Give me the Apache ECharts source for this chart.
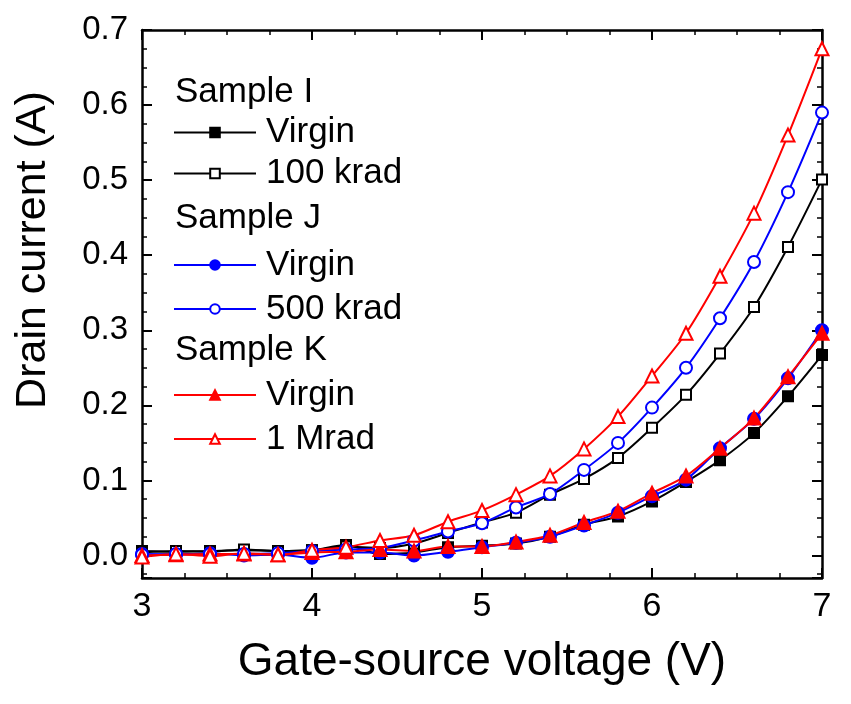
<!DOCTYPE html>
<html>
<head>
<meta charset="utf-8">
<script src="https://cdn.jsdelivr.net/npm/echarts@6/dist/echarts.min.js"></script>
<style>html,body{margin:0;padding:0;background:#fff}#c{width:851px;height:704px}</style>
</head>
<body>
<div id="c"></div>
<script>
const voltage = [3.0,3.2,3.4,3.6,3.8,4.0,4.2,4.4,4.6,4.8,5.0,5.2,5.4,5.6,5.8,6.0,6.2,6.4,6.6,6.8,7.0];
const sampleI_virgin = [0.006,0.005,0.006,0.007,0.006,0.007,0.014,0.002,0.004,0.011,0.013,0.016,0.025,0.041,0.052,0.072,0.098,0.127,0.163,0.212,0.267];
const sampleI_100krad = [0.004,0.006,0.005,0.008,0.006,0.007,0.012,0.010,0.016,0.030,0.044,0.057,0.081,0.102,0.130,0.170,0.214,0.269,0.331,0.411,0.501];
const sampleJ_virgin = [0.002,0.001,0.003,0.000,0.001,-0.003,0.004,0.004,0.000,0.005,0.011,0.017,0.025,0.040,0.057,0.079,0.101,0.143,0.182,0.236,0.300];
const sampleJ_500krad = [0.001,0.002,0.002,0.002,0.003,0.006,0.008,0.010,0.020,0.032,0.043,0.064,0.082,0.114,0.150,0.197,0.250,0.316,0.391,0.484,0.590];
const sampleK_virgin = [0.000,0.001,0.002,0.002,0.001,0.004,0.005,0.008,0.006,0.012,0.012,0.018,0.027,0.044,0.059,0.083,0.106,0.143,0.183,0.238,0.296];
const sampleK_1Mrad = [-0.002,0.002,-0.001,0.003,0.001,0.007,0.011,0.020,0.027,0.045,0.060,0.081,0.106,0.142,0.185,0.239,0.296,0.372,0.456,0.560,0.675];
const xTicks = [3,4,5,6,7];
const groupHeaders = ['Sample I','Sample J','Sample K'];
const xTitle = 'Gate-source voltage (V)';
const yTitle = 'Drain current (A)';

const FONT = '"Liberation Sans", Arial, sans-serif';
const pairs = arr => voltage.map((v,i)=>[v, arr[i]]);

function mk(name, data, color, symbol, filled, size){
  return {
    name: name, type: 'line', data: pairs(data),
    smooth: 0.3, symbol: symbol, symbolSize: size,
    lineStyle: {color: color, width: 2},
    itemStyle: {color: filled ? color : '#fff', borderColor: color, borderWidth: 2},
    emphasis: {disabled: true}, z: 3
  };
}

const series = [
  mk('Virgin|I', sampleI_virgin, '#000000', 'rect', true, 10),
  mk('100 krad|I', sampleI_100krad, '#000000', 'rect', false, 10),
  mk('Virgin|J', sampleJ_virgin, '#0000ff', 'circle', true, 12),
  mk('500 krad|J', sampleJ_500krad, '#0000ff', 'circle', false, 12),
  mk('Virgin|K', sampleK_virgin, '#ff0000', 'triangle', true, 13),
  mk('1 Mrad|K', sampleK_1Mrad, '#ff0000', 'triangle', false, 13)
];

function legend(names, top, lh){
  return {
    data: names, orient: 'vertical', left: 173, top: top, padding: 0,
    itemWidth: 82, itemHeight: 12, itemGap: 0, selectedMode: false,
    formatter: n => n.split('|')[0],
    textStyle: {fontFamily: FONT, fontSize: 35, color: '#000', lineHeight: lh, padding: [0,0,0,5]}
  };
}

const axisCommon = {
  axisLine: {show: true, onZero: false, lineStyle: {color: '#000', width: 2.5}},
  axisTick: {show: true, inside: true, length: 10, lineStyle: {color: '#000', width: 2}},
  minorTick: {show: true, splitNumber: 4, length: 5, lineStyle: {color: '#000', width: 1.5}},
  splitLine: {show: false}
};

const option = {
  animation: false,
  backgroundColor: '#fff',
  grid: {left: 142, right: 29, top: 30, bottom: 126, containLabel: false},
  xAxis: [
    Object.assign({type: 'value', min: 3, max: 7, interval: 1, position: 'bottom',
      name: xTitle, nameLocation: 'middle', nameGap: 61,
      nameTextStyle: {fontFamily: FONT, fontSize: 46, color: '#000'},
      axisLabel: {fontFamily: FONT, fontSize: 34, color: '#000', margin: 12,
        formatter: v => xTicks.includes(Math.round(v*1000)/1000) ? String(v) : ''}}, axisCommon),
    Object.assign({type: 'value', min: 3, max: 7, interval: 1, position: 'top',
      axisLabel: {show: false}}, axisCommon)
  ],
  yAxis: [
    Object.assign({type: 'value', min: -0.03, max: 0.7, splitNumber: 7, position: 'left',
      axisLabel: {fontFamily: FONT, fontSize: 33, color: '#000', margin: 14, showMinLabel: false,
        formatter: v => (Math.abs(v*10 - Math.round(v*10)) < 1e-6) ? v.toFixed(1) : ''}}, axisCommon),
    Object.assign({type: 'value', min: -0.03, max: 0.7, splitNumber: 7, position: 'right',
      axisLabel: {show: false}}, axisCommon)
  ],
  legend: [
    legend(['Virgin|I','100 krad|I'], 112, 41),
    legend(['Virgin|J','500 krad|J'], 243, 44),
    legend(['Virgin|K','1 Mrad|K'], 373, 44)
  ],
  graphic: groupHeaders.map((t,i)=>({
    type: 'text', left: 175, top: [92,218,350][i] - 17,
    style: {text: t, fontFamily: FONT, fontSize: 35, fill: '#000'}
  })).concat([{
    type: 'text', x: 33, y: 250, rotation: Math.PI/2,
    style: {text: yTitle, fontFamily: FONT, fontSize: 43, fill: '#000', align: 'center', verticalAlign: 'middle'}
  }]),
  series: series
};

echarts.init(document.getElementById('c')).setOption(option);
</script>
</body>
</html>
